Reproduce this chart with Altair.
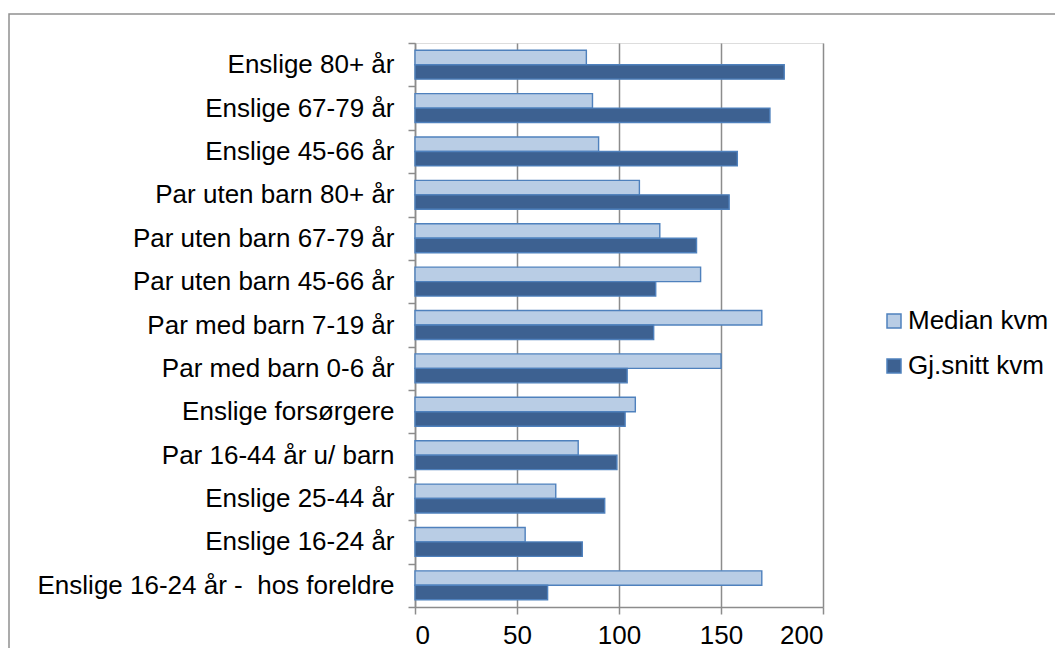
import altair as alt
import pandas as pd

categories = [
    "Enslige 80+ år",
    "Enslige 67-79 år",
    "Enslige 45-66 år",
    "Par uten barn 80+ år",
    "Par uten barn 67-79 år",
    "Par uten barn 45-66 år",
    "Par med barn 7-19 år",
    "Par med barn 0-6 år",
    "Enslige forsørgere",
    "Par 16-44 år u/ barn",
    "Enslige 25-44 år",
    "Enslige 16-24 år",
    "Enslige 16-24 år - \u00a0hos foreldre",
]
median_kvm = [84, 87, 90, 110, 120, 140, 170, 150, 108, 80, 69, 54, 170]
snitt_kvm = [181, 174, 158, 154, 138, 118, 117, 104, 103, 99, 93, 82, 65]
series = ["Median kvm", "Gj.snitt kvm"]
x_ticks = [0, 50, 100, 150, 200]

rows = []
for c, m, s in zip(categories, median_kvm, snitt_kvm):
    rows.append({"kategori": c, "serie": series[0], "verdi": m})
    rows.append({"kategori": c, "serie": series[1], "verdi": s})
df = pd.DataFrame(rows)

FONT = "Liberation Sans"
GRAY = "#8c8c8c"

bars = alt.Chart(df).mark_bar(stroke="#4F81BD", strokeWidth=1.4).encode(
    y=alt.Y("kategori:N", sort=categories, title=None,
            scale=alt.Scale(paddingInner=0, paddingOuter=0),
            axis=alt.Axis(tickBand="extent", tickSize=7, tickColor=GRAY, tickWidth=1.5,
                          domainColor=GRAY, domainWidth=1.5, labelPadding=14,
                          labelFont=FONT, labelFontSize=26, labelColor="black",
                          labelLimit=600, grid=False)),
    yOffset=alt.YOffset("serie:N", sort=series,
                        scale=alt.Scale(paddingInner=0, paddingOuter=0.5)),
    x=alt.X("verdi:Q", title=None,
            scale=alt.Scale(domain=[0, 200], nice=False),
            axis=alt.Axis(values=x_ticks, grid=True, gridColor=GRAY, gridWidth=1.5,
                          tickSize=7, tickColor=GRAY, tickWidth=1.5,
                          domainColor=GRAY, domainWidth=1.5, labelPadding=8,
                          labelFont=FONT, labelFontSize=26, labelColor="black")),
    color=alt.Color("serie:N", sort=series,
                    scale=alt.Scale(domain=series, range=["#B9CDE5", "#3D6191"]),
                    legend=alt.Legend(title=None, orient="none", legendX=466, legendY=265,
                                      symbolType="square", symbolSize=196,
                                      symbolStrokeWidth=1.5, symbolStrokeColor="#4F81BD",
                                      labelFont=FONT, labelFontSize=26, labelColor="black",
                                      labelOffset=1, rowPadding=19)),
)

border = alt.Chart(alt.Data(values=[{}])).mark_rect(
    fillOpacity=0, stroke="#909090", strokeWidth=1.5
).encode(
    x=alt.value(-406), x2=alt.value(1200),
    y=alt.value(-29), y2=alt.value(1200),
)

chart = alt.layer(border, bars).properties(
    width=408, height=564,
    autosize=alt.AutoSizeParams(type="none"),
    padding={"left": 407, "top": 35, "right": 232, "bottom": 41},
).configure_view(stroke=None).configure(background="white")

chart.save("out.html", embed_options={"renderer": "svg", "actions": False})
